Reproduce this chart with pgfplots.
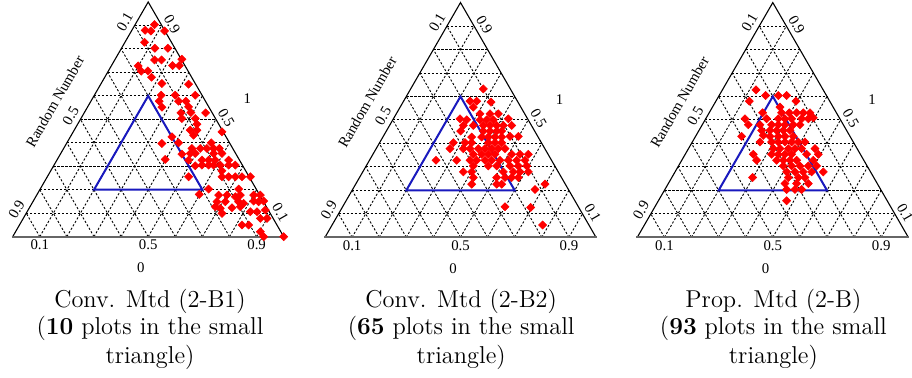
\documentclass[border=0pt]{standalone}
\usepackage{fontspec}
\usepackage{pgfplots}
\usepackage{pgfplotstable}
\pgfplotsset{compat=1.18}
\newfontfamily\tnr{Liberation Serif}
\definecolor{tblue}{RGB}{25,25,190}
\definecolor{tred}{RGB}{255,0,0}

% point positions (pixel positions in a 3x view of each panel)
\pgfplotstableread{
X Y
463 73
435 90
452 92
493 92
433 126
464 144
503 144
463 179
484 179
545 177
517 196
537 196
414 197
423 213
443 212
454 231
485 250
565 252
483 285
525 285
585 285
477 303
535 303
557 303
485 321
565 320
542 338
572 337
616 338
545 355
585 355
590 372
570 390
590 390
580 405
665 395
515 410
485 430
535 428
633 428
575 445
600 445
620 445
640 445
657 445
545 462
570 460
585 460
640 460
665 460
565 480
605 480
625 480
645 480
685 480
495 478
585 497
605 495
625 495
640 495
660 495
685 495
705 495
665 512
565 530
665 530
685 530
705 530
725 530
750 530
625 567
597 583
715 567
655 585
680 585
705 590
720 585
760 585
780 585
650 605
675 605
715 605
730 610
760 603
775 605
790 603
645 620
660 625
695 623
720 620
750 635
770 635
795 630
665 640
780 655
800 655
725 675
745 675
780 695
790 710
850 710
}\dataA

\pgfplotstableread{
X Y
520 265
480 302
500 302
543 305
490 320
510 340
540 340
565 340
450 355
470 358
510 358
530 358
550 358
595 355
460 375
490 375
520 375
540 375
560 375
580 375
605 375
452 392
520 392
540 392
560 392
575 392
485 410
515 410
535 410
555 410
575 410
600 408
625 408
430 427
465 427
485 427
535 427
555 427
575 427
420 445
460 445
480 445
505 445
525 445
545 445
565 445
585 445
490 462
515 462
535 462
555 462
605 462
630 462
655 462
378 480
440 480
480 480
500 480
525 480
545 480
570 480
595 480
620 480
645 480
490 497
535 497
560 497
600 497
625 497
650 497
460 515
485 515
580 515
610 515
630 515
655 515
490 532
560 532
585 532
605 532
625 532
485 552
560 552
575 552
705 552
675 568
585 620
662 622
698 675
}\dataB

\pgfplotstableread{
X Y
408 268
437 285
475 285
500 285
388 302
528 302
480 320
428 337
485 337
508 337
530 337
550 337
570 337
375 355
440 355
475 355
495 355
515 355
545 355
565 355
580 352
385 373
420 373
455 373
475 373
495 373
520 373
540 373
425 390
450 390
470 390
490 390
510 390
365 408
430 405
450 408
475 408
495 408
520 408
420 425
455 425
475 425
495 425
515 425
535 425
555 425
460 445
480 445
505 445
525 445
545 445
585 445
400 462
455 462
475 462
495 462
515 462
560 462
595 462
410 480
470 480
490 480
510 480
530 480
580 480
490 497
515 497
540 497
565 497
590 497
500 515
525 515
550 515
575 515
610 515
398 532
505 532
535 532
555 532
495 550
530 550
565 550
500 568
525 568
545 568
500 602
}\dataC

\tikzset{
  gridl/.style={black, line width=0.45pt, dash pattern=on 1.1pt off 0.9pt},
  lab/.style={font=\tnr\fontsize{7.4}{8}\selectfont, inner sep=0pt},
}
\pgfplotsset{
  tern/.style={anchor=south west, width=135.5pt, height=117.35pt,
    scale only axis, xmin=0, xmax=1, ymin=0, ymax=1, hide axis, clip=false},
  pts/.style={only marks, mark=square*, mark size=1.42pt, color=tred,
    mark options={rotate=45, fill=tred, draw=tred, line width=0.3pt}},
}

\newcommand{\ternframe}{%
  \pgfplotsinvokeforeach{1,...,9}{%
    \draw[gridl] (axis cs:##1*0.05,##1*0.1) -- (axis cs:1-##1*0.05,##1*0.1);
    \draw[gridl] (axis cs:##1*0.1,0) -- (axis cs:0.5+##1*0.05,1-##1*0.1);
    \draw[gridl] (axis cs:##1*0.1,0) -- (axis cs:##1*0.05,##1*0.1);
  }%
  \draw[black, line width=0.55pt] (axis cs:0,0) -- (axis cs:0.5,1) -- (axis cs:1,0);
  \draw[black!60, line width=0.9pt] (axis cs:-0.004,0) -- (axis cs:1.004,0);
  \node[lab, rotate=60] at (axis cs:0.414,0.916) {0.1};
  \node[lab, rotate=60] at (axis cs:0.214,0.516) {0.5};
  \node[lab, rotate=60] at (axis cs:0.014,0.116) {0.9};
  \node[lab, rotate=-60] at (axis cs:0.588,0.906) {0.9};
  \node[lab, rotate=-60] at (axis cs:0.788,0.506) {0.5};
  \node[lab, rotate=-60] at (axis cs:0.988,0.104) {0.1};
  \node[lab] at (axis cs:0.1,-0.035) {0.1};
  \node[lab] at (axis cs:0.5,-0.035) {0.5};
  \node[lab] at (axis cs:0.9,-0.035) {0.9};
  \node[lab, rotate=60] at (axis cs:0.156,0.576) {Random Number};
  \node[lab] at (axis cs:0.866,0.588) {1};
  \node[lab] at (axis cs:0.473,-0.134) {0};
}
\newcommand{\bluetri}{%
  \draw[tblue, line width=1pt] (axis cs:0.3,0.2) -- (axis cs:0.7,0.2) -- (axis cs:0.5,0.6) -- cycle;
}

\begin{document}
\begin{tikzpicture}
\useasboundingbox (0,0) rectangle (456pt,189pt);

\begin{axis}[tern, at={(6.35pt,70.65pt)}]
\ternframe
\addplot[pts] table[x expr=(\thisrow{X}-38)/812, y expr=(710-\thisrow{Y})/705] {\dataA};
\bluetri
\end{axis}

\begin{axis}[tern, at={(162.5pt,70.35pt)}]
\ternframe
\addplot[pts] table[x expr=(\thisrow{X}-45)/813, y expr=(712-\thisrow{Y})/707] {\dataB};
\bluetri
\end{axis}

\begin{axis}[tern, at={(318.65pt,70.35pt)}]
\ternframe
\addplot[pts] table[x expr=(\thisrow{X}-52)/813, y expr=(712-\thisrow{Y})/707] {\dataC};
\bluetri
\end{axis}

\begin{scope}[every node/.style={font=\fontsize{12.2}{14}\selectfont, inner sep=0pt, anchor=base}]
\node at (75pt,35.35pt) {Conv. Mtd (2-B1)};
\node at (75pt,21.5pt) {(\textbf{10} plots in the small};
\node at (75pt,7.35pt) {triangle)};
\node at (230.6pt,35.35pt) {Conv. Mtd (2-B2)};
\node at (230.6pt,21.5pt) {(\textbf{65} plots in the small};
\node at (230.6pt,7.35pt) {triangle)};
\node at (386.7pt,35.35pt) {Prop. Mtd (2-B)};
\node at (386.7pt,21.5pt) {(\textbf{93} plots in the small};
\node at (386.7pt,7.35pt) {triangle)};
\end{scope}
\end{tikzpicture}
\end{document}
